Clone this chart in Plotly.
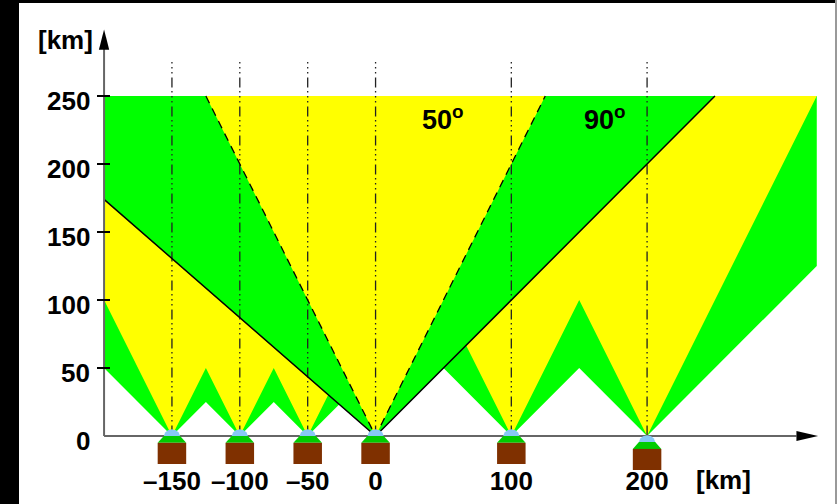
import plotly.graph_objects as go

FONT = "Liberation Sans"
BLACK, GREEN, YELLOW = "#000000", "#00ff00", "#ffff00"
GRAY, BROWN, ROOF, DOME = "#666666", "#7f3000", "#00cc00", "#87c8f5"

station_x = [-150, -100, -50, 0, 100, 200]
station_drop = [0, 0, 0, 0, 0, 4.5]
station_labels = ["\u2013150", "\u2013100", "\u201350", "0", "100", "200"]

ytick_vals = [0, 50, 100, 150, 200, 250]
ytick_labels = ["0", "50", "100", "150", "200", "250"]
ytick_marks = [50, 100, 150, 200, 250]

green_x = [-200, -150, -125, -100, -75, -50, -25, 0, 50, 100, 150, 200, 325, 325, -200]
green_y = [50, 0, 25, 0, 25, 0, 25, 0, 50, 0, 50, 0, 125, 250, 250]
yellow_x = [-200, -150, -125, -100, -75, -50, -25, 0, 50, 100, 150, 200, 325, -200]
yellow_y = [100, 0, 50, 0, 50, 0, 50, 0, 100, 0, 100, 0, 250, 250]

cone90_x = [-200, 0, 250, -200]
cone90_y = [174, 0, 250, 250]
cone50_x = [-125, 0, 125]
cone50_y = [250, 0, 250]

dome_dx = [-6, -5, -3, 0, 3, 5, 6]
dome_dy = [0, 2.6, 4.3, 5, 4.3, 2.6, 0]
roof_dx = [-10.5, -6, 6, 10.5]
roof_dy = [-5, 0, 0, -5]
base_dx = [-10.5, 10.5, 10.5, -10.5]
base_dy = [-5, -5, -20.6, -20.6]

fig = go.Figure()


def poly(x, y, color):
    fig.add_trace(go.Scatter(x=x, y=y, mode="lines", fill="toself", fillcolor=color,
                             line=dict(width=0, color=color), hoverinfo="skip", showlegend=False))


poly(green_x, green_y, GREEN)
poly(yellow_x, yellow_y, YELLOW)
poly(cone90_x, cone90_y, GREEN)
poly(cone50_x, cone50_y, YELLOW)


def line(x, y, color, width, dash="solid"):
    fig.add_trace(go.Scatter(x=x, y=y, mode="lines", line=dict(color=color, width=width, dash=dash),
                             hoverinfo="skip", showlegend=False))


for sx in station_x:
    line([sx, sx], [275, 0], "#222222", 1.3, "1.5px,3.5px,1.5px,3.5px,1.5px,4px,10px,3.5px")

line(cone90_x[:3], cone90_y[:3], BLACK, 1.5)
line(cone50_x, cone50_y, BLACK, 1.3, "8px,6px")

# axes with arrowheads
line([-200, -200], [0, 285], GRAY, 2)
line([-200, 310], [0, 0], GRAY, 2)
poly([-203.8, -200, -196.2], [284, 299, 284], BLACK)
poly([310, 326, 310], [3.7, 0, -3.7], BLACK)

for sx, drop in zip(station_x, station_drop):
    poly([sx + d for d in dome_dx], [v - drop for v in dome_dy], DOME)
    poly([sx + d for d in roof_dx], [v - drop for v in roof_dy], ROOF)
    poly([sx + d for d in base_dx], [v - drop for v in base_dy], BROWN)

W, H, L, B = 837, 504, 97, 34
pw, ph = W - L, H - B

# y tick labels
annotations = [dict(x=0, xref="paper", xanchor="right", xshift=-5, y=v, yref="y", yanchor="middle",
                    yshift=-5, text=f"<b>{t}</b>", showarrow=False,
                    font=dict(family=FONT, size=26, color=BLACK))
               for v, t in zip(ytick_vals, ytick_labels)]


def label(x, y, text, size=26, xref="x", yref="y"):
    annotations.append(dict(x=x, y=y, xref=xref, yref=yref, text=f"<b>{text}</b>", showarrow=False,
                            xanchor="center", yanchor="middle",
                            font=dict(family=FONT, size=size, color=BLACK)))


label((65 - L) / pw, 1 - 40 / ph, "[km]", xref="paper", yref="paper")
label((723 - L) / pw, 1 - 480 / ph, "[km]", xref="paper", yref="paper")
label(49.3, 233.5, "50<sup>o</sup>", 27)
label(168.7, 233.5, "90<sup>o</sup>", 27)

fig.update_layout(
    width=W, height=H, autosize=False,
    margin=dict(l=L, r=0, t=0, b=B),
    paper_bgcolor="white", plot_bgcolor="rgba(0,0,0,0)",
    showlegend=False,
    xaxis=dict(range=[-205.2, 339.9], showgrid=False, zeroline=False, showline=False,
               tickmode="array", tickvals=station_x, ticktext=[f"<b>{t}</b>" for t in station_labels],
               ticks="", tickfont=dict(family=FONT, size=26, color=BLACK), tickangle=0,
               ticklabelstandoff=-7),
    yaxis=dict(range=[-25, 320.6], showgrid=False, zeroline=False, showline=False,
               tickmode="array", tickvals=ytick_marks, showticklabels=False,
               ticks="inside", ticklen=13, tickwidth=1.5, tickcolor=BLACK, layer="above traces"),
    annotations=annotations,
    shapes=[
        dict(type="rect", xref="paper", yref="paper", x0=-L / pw, x1=-(L - 19) / pw, y0=-B / ph, y1=1,
             fillcolor=BLACK, line_width=0, layer="above"),
        dict(type="rect", xref="paper", yref="paper", x0=-L / pw, x1=1, y0=1 - 3 / ph, y1=1,
             fillcolor=BLACK, line_width=0, layer="above"),
        dict(type="rect", xref="paper", yref="paper", x0=1 - 2 / pw, x1=1, y0=-B / ph, y1=1,
             fillcolor="#999999", line_width=0, layer="above"),
    ],
)
fig.write_html("out.html", config={"displayModeBar": False},
               post_script="document.body.style.margin='0';document.body.style.overflow='hidden';")
